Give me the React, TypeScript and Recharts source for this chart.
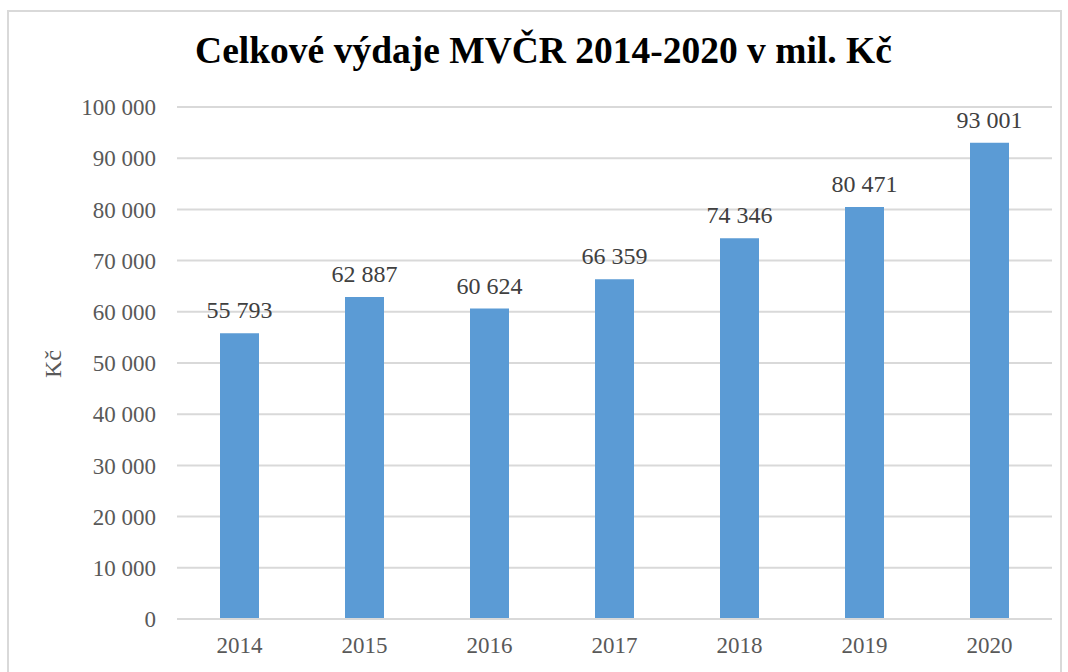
import { BarChart, Bar, XAxis, YAxis, CartesianGrid, LabelList, Label } from "recharts";

const years = ["2014", "2015", "2016", "2017", "2018", "2019", "2020"];
const spending = [55793, 62887, 60624, 66359, 74346, 80471, 93001];
const yTicks = [0, 10000, 20000, 30000, 40000, 50000, 60000, 70000, 80000, 90000, 100000];

const data = years.map((year, i) => ({ year, value: spending[i] }));

// thousands separated by a space; nbsp variant keeps bar labels on one line
const fmt = (v: number) =>
    String(v).replace(/\B(?=(\d{3})+(?!\d))/g, " ");
const fmtNb = (v: number) =>
    String(v).replace(/\B(?=(\d{3})+(?!\d))/g, "\u00a0");

const font = "'Liberation Serif', 'Times New Roman', serif";

export default function App() {
    return (
        <div
            style={{
                position: "absolute",
                left: 7,
                top: 10,
                width: 1055,
                height: 700,
                border: "2px solid #d9d9d9",
                boxSizing: "border-box",
                background: "#fff",
                fontFamily: font
            }}
        >
            <div
                style={{
                    position: "absolute",
                    left: 18,
                    right: 0,
                    top: 17,
                    textAlign: "center",
                    fontWeight: "bold",
                    fontSize: 37.5,
                    color: "#000"
                }}
            >
                Celkové výdaje MVČR 2014-2020 v mil. Kč
            </div>
            <BarChart
                width={1051}
                height={696}
                data={data}
                margin={{ top: 95, right: 8, bottom: 59, left: 0 }}
            >
                <CartesianGrid vertical={false} stroke="#d9d9d9" strokeWidth={2} />
                <XAxis
                    dataKey="year"
                    axisLine={{ stroke: "#d9d9d9", strokeWidth: 2 }}
                    tickLine={false}
                    tickSize={0}
                    tickMargin={18}
                    tick={{ fill: "#595959", fontSize: 23, fontFamily: font }}
                />
                <YAxis
                    width={168}
                    domain={[0, 100000]}
                    ticks={yTicks}
                    interval={0}
                    axisLine={false}
                    tickLine={false}
                    tickSize={0}
                    tickMargin={21}
                    tickFormatter={fmt}
                    tick={{ fill: "#595959", fontSize: 23, fontFamily: font }}
                >
                    <Label
                        content={() => (
                            <text
                                x={44}
                                y={352}
                                transform="rotate(-90 44 352)"
                                textAnchor="middle"
                                dominantBaseline="central"
                                fill="#595959"
                                fontSize={24}
                                fontFamily={font}
                            >
                                Kč
                            </text>
                        )}
                    />
                </YAxis>
                <Bar dataKey="value" fill="#5b9bd5" barSize={39} isAnimationActive={false}>
                    <LabelList
                        dataKey="value"
                        position="top"
                        offset={15}
                        formatter={(v: any) => fmtNb(Number(v))}
                        fill="#404040"
                        fontSize={24}
                        fontFamily={font}
                    />
                </Bar>
            </BarChart>
        </div>
    );
}
